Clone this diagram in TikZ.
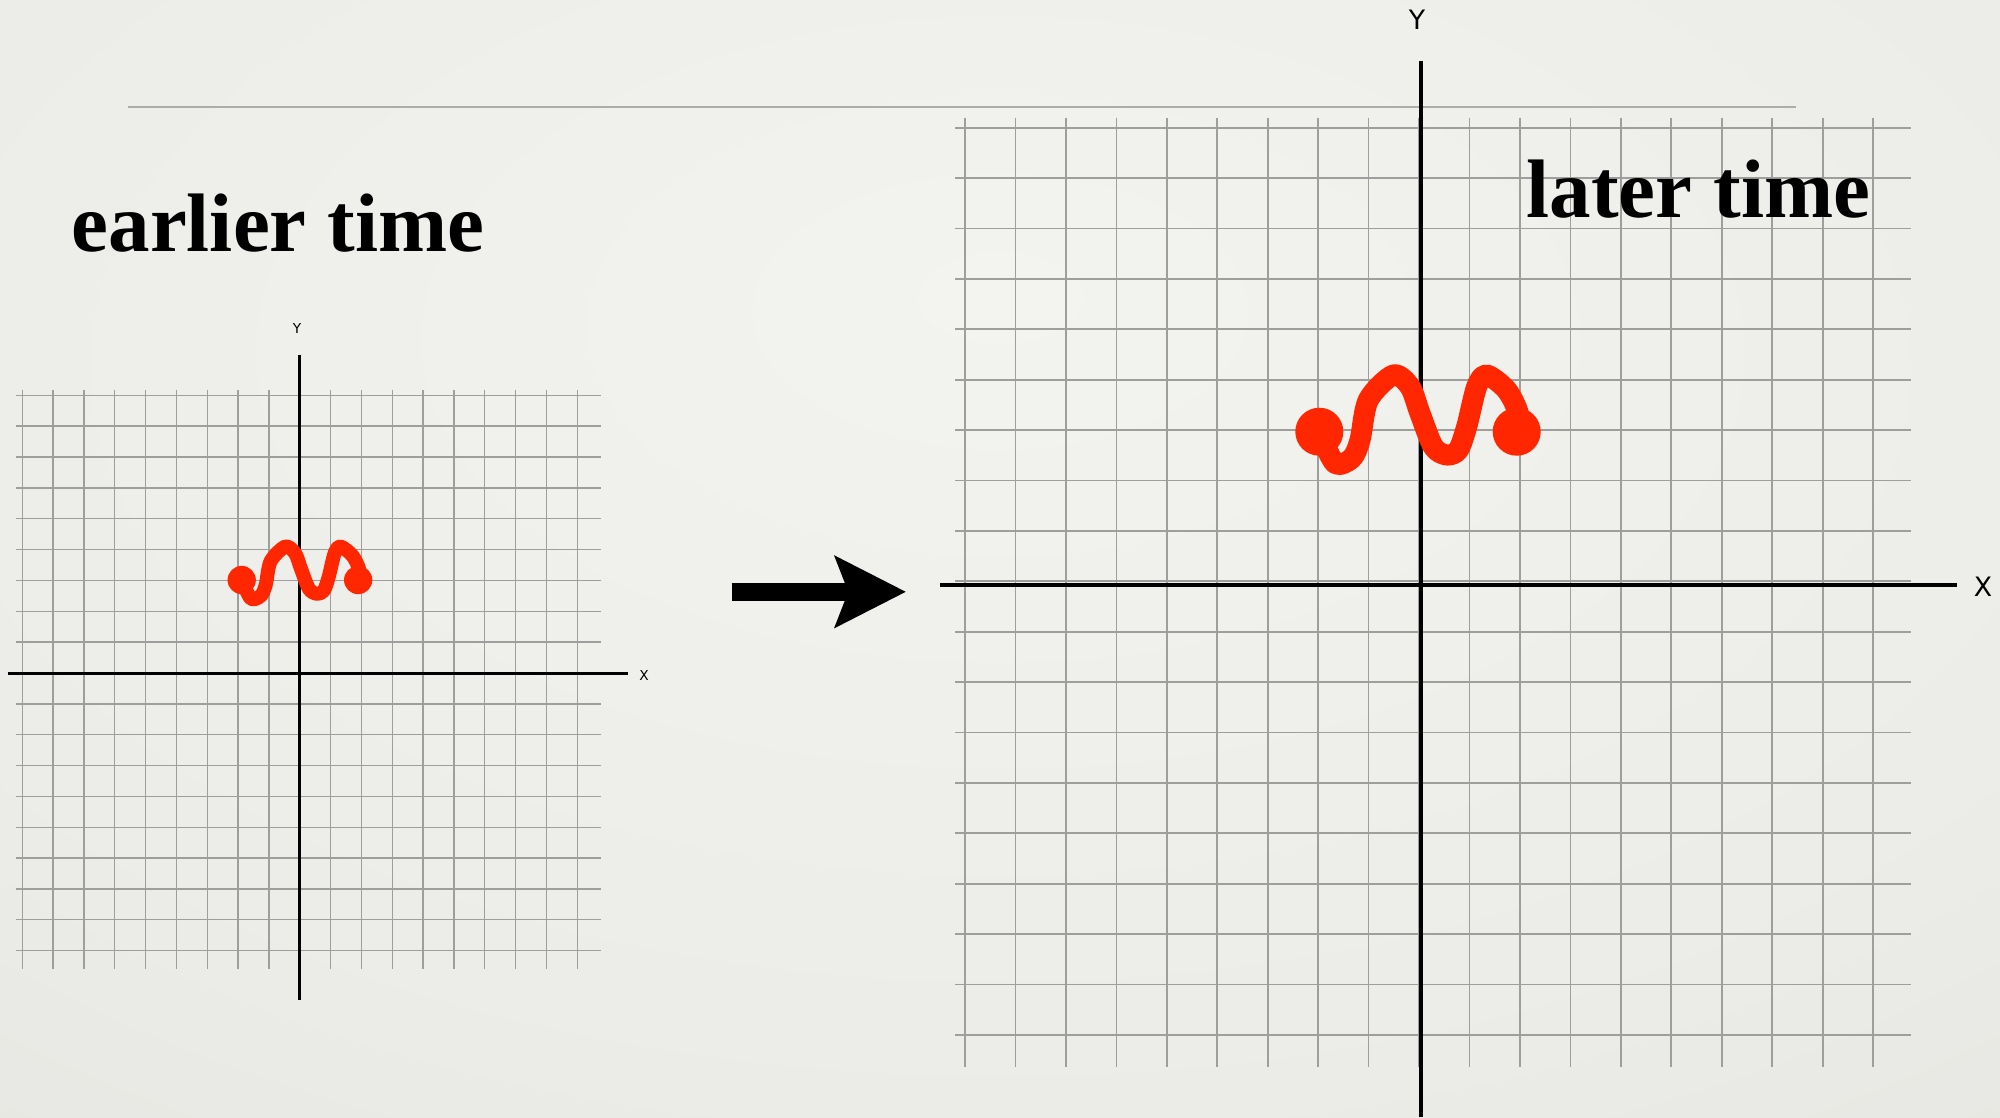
\documentclass[tikz,border=0pt]{standalone}
\usepackage{fontspec}
\setmainfont{Liberation Serif}
\newfontfamily\axisfont{DejaVu Sans}
\usetikzlibrary{arrows.meta}

\definecolor{bgin}{RGB}{243,243,240}
\definecolor{bgout}{RGB}{214,214,208}
\definecolor{gridgray}{RGB}{158,158,156}
\definecolor{rulegray}{RGB}{172,172,168}
\definecolor{squigred}{RGB}{255,38,0}
\pgfdeclareradialshading{vignette}{\pgfpoint{0bp}{12bp}}{color(0bp)=(bgin); color(30bp)=(bgin!75!bgout); color(80bp)=(bgout)}

\tikzset{
  gridline/.style={draw=gridgray, line width=0.014cm},
  axisline/.style={draw=black, line width=0.03cm},
  squiggle/.style={draw=squigred, line join=round, line cap=round},
  title/.style={font=\fontsize{23.6pt}{28pt}\selectfont\bfseries, anchor=base west, inner sep=0pt},
  axislabel/.style={font=\axisfont\fontsize{#1}{#1}\selectfont, inner sep=0pt},
  bigarrow/.style={line width=0.183cm, -{Stealth[length=0.717cm, width=0.733cm, inset=0.143cm, line width=0pt]}}
}

\begin{document}
\begin{tikzpicture}[x=0.01cm, y=-0.01cm]
  % Background
  \useasboundingbox (0,0) rectangle (2000,1117);
  \shade[shading=vignette] (0,0) rectangle (2000,1117);
  \draw[rulegray, line width=0.024cm] (127.5,106.7) -- (1796,106.7);

  % Earlier grid
  \foreach \k in {0,...,18} {
    \draw[gridline] ({22.3+30.83*\k},390) -- ({22.3+30.83*\k},969.3);
    \draw[gridline] (16,{395.3+30.85*\k}) -- (600.7,{395.3+30.85*\k});
  }
  \draw[axisline] (7.6,673) -- (628,673);
  \draw[axisline] (299.5,354.6) -- (299.5,1000);
  \node[axislabel=3.9pt] (xearly) at (644,675) {X};
  \node[axislabel=3.9pt] (yearly) at (297,328) {Y};

  % Later grid
  \foreach \k in {0,...,18} {
    \draw[gridline, line width=0.017cm] ({965+50.45*\k},117.7) -- ({965+50.45*\k},1066.7);
    \draw[gridline, line width=0.017cm] (955,{127.7+50.4*\k}) -- (1910.7,{127.7+50.4*\k});
  }
  \draw[axisline, line width=0.037cm] (940,585) -- (1957,585);
  \draw[axisline, line width=0.037cm] (1421,60.5) -- (1421,1117);
  \node[axislabel=7.6pt] (xlate) at (1983,587) {X};
  \node[axislabel=7.6pt] (ylate) at (1417,20) {Y};

  % Titles
  \node[title] (earlier) at (71,251.7) {earlier time};
  \node[title] (later) at (1526,217.5) {later time};

  % Squiggles
  \foreach \sx/\sy/\sc/\lw in {241.7/580/0.59/0.14cm, 1319.3/431.7/1/0.21cm} {
    \begin{scope}[shift={(\sx,\sy)}, scale=\sc]
      \draw[squiggle, line width=\lw] plot[smooth, tension=0.5] coordinates {
        (0,0) (15.7,31.6) (32.4,26.6) (40.7,8.3) (49,-31.7) (74,-56.7)
        (90.7,-45) (100.7,-18.4) (114,15) (127.4,23.3) (139,18.3) (147.4,-5)
        (157.4,-45) (167.4,-56.7) (187.4,-41.7) (199,-18.4) (197.4,0)};
      \fill[squigred] (0,0) circle[radius=24] (197.4,0) circle[radius=24];
    \end{scope}
  }

  % Arrow
  \coordinate (arrowfrom) at (731.7,591.8);
  \coordinate (arrowto) at (905.7,591.8);
  \draw[bigarrow] (arrowfrom) -- (arrowto);
\end{tikzpicture}
\end{document}
